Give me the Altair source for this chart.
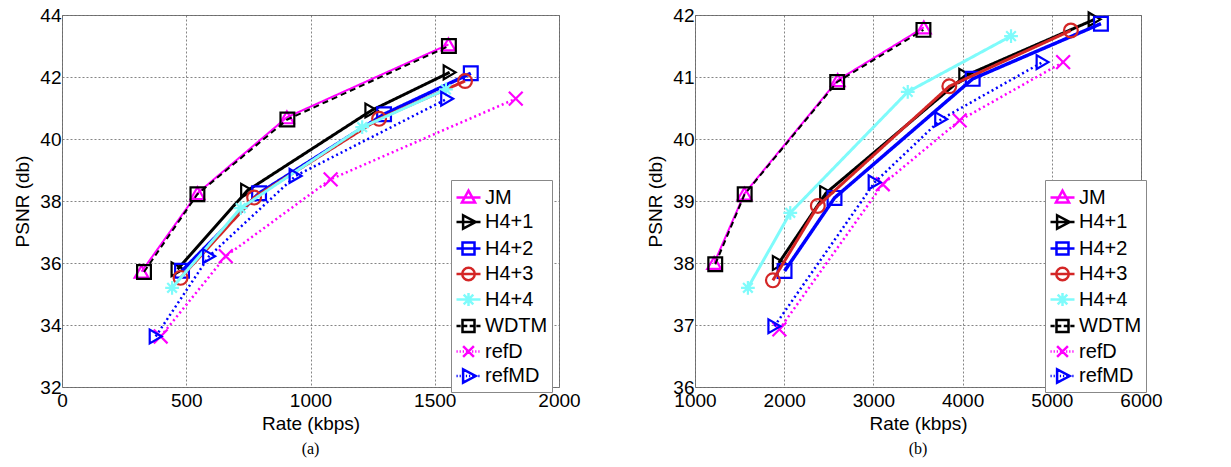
import altair as alt
import pandas as pd

SERIES = ["JM", "H4+1", "H4+2", "H4+3", "H4+4", "WDTM", "refD", "refMD"]

# Panel (a)
A_RATE = {
    "JM":    [320, 545, 905, 1555],
    "H4+1":  [465, 745, 1245, 1560],
    "H4+2":  [483, 793, 1296, 1645],
    "H4+3":  [477, 773, 1276, 1622],
    "H4+4":  [443, 719, 1208, 1545],
    "WDTM":  [330, 545, 907, 1557],
    "refD":  [397, 659, 1081, 1826],
    "refMD": [377, 592, 940, 1550],
}
A_PSNR = {
    "JM":    [35.72, 38.25, 40.70, 43.05],
    "H4+1":  [35.80, 38.33, 40.92, 42.15],
    "H4+2":  [35.75, 38.25, 40.80, 42.12],
    "H4+3":  [35.52, 38.11, 40.65, 41.87],
    "H4+4":  [35.20, 37.77, 40.38, 41.60],
    "WDTM":  [35.71, 38.22, 40.63, 43.00],
    "refD":  [33.63, 36.22, 38.70, 41.30],
    "refMD": [33.63, 36.22, 38.81, 41.30],
}
# Panel (b)
B_RATE = {
    "JM":    [1215, 1555, 2600, 3565],
    "H4+1":  [1940, 2470, 4030, 5480],
    "H4+2":  [2004, 2564, 4113, 5551],
    "H4+3":  [1873, 2377, 3851, 5214],
    "H4+4":  [1593, 2068, 3385, 4543],
    "WDTM":  [1227, 1557, 2594, 3561],
    "refD":  [1946, 3105, 3967, 5127],
    "refMD": [1890, 3014, 3760, 4897],
}
B_PSNR = {
    "JM":    [38.00, 39.12, 40.95, 41.80],
    "H4+1":  [38.00, 39.13, 41.02, 41.93],
    "H4+2":  [37.87, 39.05, 40.97, 41.86],
    "H4+3":  [37.72, 38.92, 40.85, 41.75],
    "H4+4":  [37.60, 38.81, 40.76, 41.66],
    "WDTM":  [37.98, 39.11, 40.92, 41.76],
    "refD":  [36.93, 39.27, 40.30, 41.24],
    "refMD": [36.98, 39.30, 40.32, 41.24],
}

A_XTICKS = [0, 500, 1000, 1500, 2000]
A_YTICKS = [32, 34, 36, 38, 40, 42, 44]
B_XTICKS = [1000, 2000, 3000, 4000, 5000, 6000]
B_YTICKS = [36, 37, 38, 39, 40, 41, 42]

COLORS = {"JM": "#ff00ff", "H4+1": "#000000", "H4+2": "#0000ff", "H4+3": "#d42626",
          "H4+4": "#7ffbfb", "WDTM": "#000000", "refD": "#ff00ff", "refMD": "#0000ff"}
DASH = {"JM": [1, 0], "H4+1": [1, 0], "H4+2": [1, 0], "H4+3": [1, 0], "H4+4": [1, 0],
        "WDTM": [6, 4], "refD": [2, 3], "refMD": [2, 3]}
WIDTH = {"JM": 2, "H4+1": 3, "H4+2": 3.5, "H4+3": 3, "H4+4": 3, "WDTM": 2,
         "refD": 2.5, "refMD": 2.5}
XPATH = "M-1,-1L1,1M-1,1L1,-1"
ASTER = "M-1,0L1,0M0,-1L0,1M-0.7,-0.7L0.7,0.7M-0.7,0.7L0.7,-0.7"
SHAPES = {"JM": "triangle-up", "H4+1": "triangle-right", "H4+2": "square", "H4+3": "circle",
          "H4+4": ASTER, "WDTM": "square", "refD": XPATH, "refMD": "triangle-right"}


# legend glyphs: line stub + marker, in the unit box of a symbol
def stub(dash, gap):
    if gap == 0:
        return "M-1,0L1,0"
    out, x = "", -1.0
    while x < 1.0:
        e = min(x + dash, 1.0)
        out += "M%.3f,0L%.3f,0" % (x, e)
        x = e + gap
    return out


M_TRI_UP = "M0,-0.58L0.55,0.42L-0.55,0.42Z"
M_TRI_R = "M-0.45,-0.55L0.6,0L-0.45,0.55Z"
M_SQ = "M-0.5,-0.5L0.5,-0.5L0.5,0.5L-0.5,0.5Z"
M_CIRC = "M0.52,0A0.52,0.52 0 1,1 -0.52,0A0.52,0.52 0 1,1 0.52,0Z"
M_X = "M-0.45,-0.45L0.45,0.45M-0.45,0.45L0.45,-0.45"
M_AST = "M-0.55,0L0.55,0M0,-0.55L0,0.55M-0.4,-0.4L0.4,0.4M-0.4,0.4L0.4,-0.4"
LEG = {
    "JM": stub(1, 0) + M_TRI_UP,
    "H4+1": stub(1, 0) + M_TRI_R,
    "H4+2": stub(1, 0) + M_SQ,
    "H4+3": stub(1, 0) + M_CIRC,
    "H4+4": stub(1, 0) + M_AST,
    "WDTM": stub(0.35, 0.2) + M_SQ,
    "refD": stub(0.1, 0.16) + M_X,
    "refMD": stub(0.1, 0.16) + M_TRI_R,
}

FONT = "Liberation Sans"


def panel(rates, psnrs, xdom, ydom, xticks, yticks, w, h, caption, lx, ly):
    rows = []
    for s in SERIES:
        for r, p in zip(rates[s], psnrs[s]):
            rows.append({"series": s, "rate": r, "psnr": p})
    df = pd.DataFrame(rows)
    xenc = alt.X("rate:Q", scale=alt.Scale(domain=xdom, nice=False),
                 axis=alt.Axis(values=xticks, title="Rate (kbps)", format="d", labelFlush=False))
    yenc = alt.Y("psnr:Q", scale=alt.Scale(domain=ydom, nice=False, zero=False),
                 axis=alt.Axis(values=yticks, title="PSNR (db)", format="d", labelFlush=False))
    layers = []
    for s in SERIES:
        base = alt.Chart(df).transform_filter(alt.datum.series == s)
        layers.append(
            base.mark_line(color=COLORS[s], strokeDash=DASH[s], strokeWidth=WIDTH[s])
            .encode(x=xenc, y=yenc)
        )
        layers.append(
            base.mark_point(color=COLORS[s], shape=SHAPES[s], filled=False, size=190,
                            strokeWidth=2.2, opacity=1)
            .encode(x=xenc, y=yenc)
        )
    leg = alt.Legend(title=None, orient="none", legendX=lx, legendY=ly)
    legend_layer = alt.Chart(df).transform_filter("false").mark_point(
        filled=False, size=576, strokeWidth=2.5, opacity=1
    ).encode(
        x=xenc, y=yenc,
        color=alt.Color("series:N", scale=alt.Scale(domain=SERIES, range=[COLORS[s] for s in SERIES]),
                        legend=leg),
        shape=alt.Shape("series:N", scale=alt.Scale(domain=SERIES, range=[LEG[s] for s in SERIES]),
                        legend=leg),
    )
    layers.append(legend_layer)
    return alt.layer(*layers).properties(
        width=w, height=h,
        title=alt.TitleParams(caption, orient="bottom", font="Liberation Serif", fontSize=16,
                              fontWeight="normal", offset=8, anchor="middle"),
    )


left = panel(A_RATE, A_PSNR, [0, 2000], [32, 44], A_XTICKS, A_YTICKS, 497, 372, "(a)", 389, 165)
right = panel(B_RATE, B_PSNR, [1000, 6000], [36, 42], B_XTICKS, B_YTICKS, 446, 372, "(b)", 350, 165)

chart = alt.hconcat(left, right, spacing=65).resolve_scale(
    color="independent", shape="independent"
).properties(
    padding={"left": 5, "top": -3, "right": 5, "bottom": 0}
).configure_view(
    stroke="#7a7a7a", strokeWidth=1
).configure_axis(
    labelFont=FONT, titleFont=FONT, labelFontSize=19, titleFontSize=19,
    labelColor="#000", titleColor="#000", titleFontWeight="normal",
    grid=True, gridDash=[2, 2], gridColor="#666", gridOpacity=0.8,
    ticks=False, domain=False, labelPadding=4, titlePadding=4,
).configure_axisY(
    labelPadding=1, titlePadding=7,
).configure_legend(
    labelFont=FONT, labelFontSize=20, labelColor="#000",
    strokeColor="#888", fillColor="white", padding=4, rowPadding=0.5,
    symbolSize=576, symbolStrokeWidth=2.5, labelOffset=3,
)

chart.save("out.html", embed_options={"renderer": "svg", "actions": False})
